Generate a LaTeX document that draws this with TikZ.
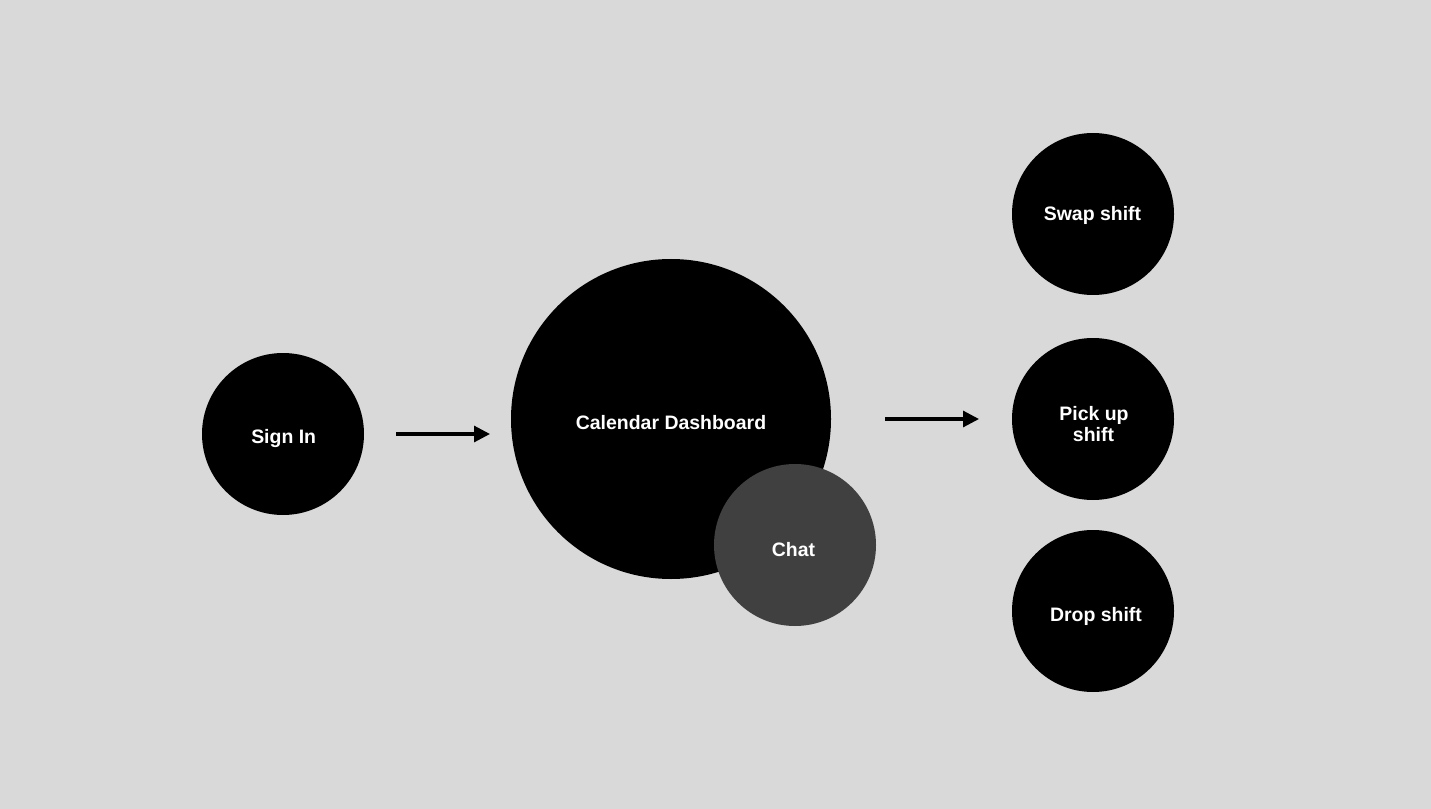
\documentclass[tikz,border=0pt]{standalone}
\usepackage{fontspec}
\setmainfont{Liberation Sans}
\usetikzlibrary{arrows.meta}
\definecolor{bg}{HTML}{D9D9D9}
\definecolor{chatgray}{HTML}{404040}
\tikzset{
  bubble/.style={circle, fill=black, draw=none, inner sep=0pt},
  lbl/.style={anchor=base, inner sep=0pt, text=white, font=\bfseries\fontsize{14.6}{17}\selectfont},
  flow/.style={line width=2.3pt, -{Triangle[length=12pt,width=12pt]}}
}
\begin{document}
\begin{tikzpicture}[x=0.75pt,y=-0.75pt]
\fill[bg] (0,0) rectangle (1431,809);
\useasboundingbox (0,0) rectangle (1431,809);
\node[bubble, minimum size=240pt] (dash) at (671,419) {};
\node[bubble, fill=chatgray, minimum size=121.5pt] (chat) at (795,545) {};
\node[bubble, minimum size=121.5pt] (signin) at (283,434) {};
\node[bubble, minimum size=121.5pt] (swap) at (1093,214) {};
\node[bubble, minimum size=121.5pt] (pick) at (1093,419) {};
\node[bubble, minimum size=121.5pt] (drop) at (1093,611) {};
\node[lbl] (dasht) at (671,429) {Calendar Dashboard};
\node[lbl] (chatt) at (793.5,556.3) {Chat};
\node[lbl] (signint) at (283.7,443.2) {Sign In};
\node[lbl] (swapt) at (1092.5,221) {Swap shift};
\node[lbl] (pickt1) at (1094,420) {Pick up};
\node[lbl] (pickt2) at (1093.5,441) {shift};
\node[lbl] (dropt) at (1096,621) {Drop shift};
\coordinate (a1s) at (396,434);
\coordinate (a1e) at (490,434);
\coordinate (a2s) at (885,419);
\coordinate (a2e) at (979,419);
\draw[flow] (a1s) -- (a1e);
\draw[flow] (a2s) -- (a2e);
\end{tikzpicture}
\end{document}
